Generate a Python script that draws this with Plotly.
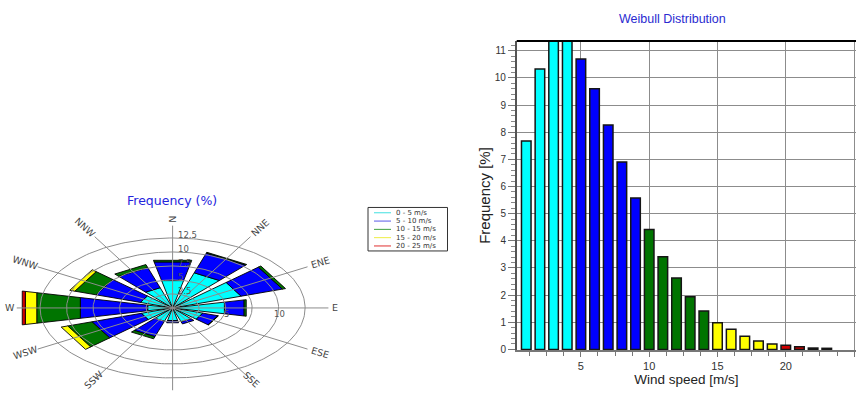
import numpy as np
import plotly.graph_objects as go

# ---------------- wind rose data (frequency %, per direction and speed bin) ----------------
directions = ["N", "NNE", "ENE", "E", "ESE", "SSE", "S", "SSW", "WSW", "W", "WNW", "NNW"]
dir_angles = [0, 30, 60, 90, 120, 150, 180, 210, 240, 270, 300, 330]
# the south label falls below the bottom edge of the page, so it is left out
labelled_dirs = ["N", "NNE", "ENE", "E", "ESE", "SSE", "SSW", "WSW", "W", "WNW", "NNW"]
speed_bins = ["0 - 5 m/s", "5 - 10 m/s", "10 - 15 m/s", "15 - 20 m/s", "20 - 25 m/s"]
freq_0_5 = [5.0, 6.6, 6.8, 5.0, 3.0, 2.6, 2.3, 2.5, 3.1, 2.4, 3.2, 3.8]
freq_5_10 = [3.4, 3.7, 4.1, 1.9, 1.5, 0.4, 0.4, 2.9, 4.9, 6.5, 4.4, 3.8]
freq_10_15 = [0.3, 0.15, 0.3, 0.2, 0.05, 0.0, 0.0, 0.4, 2.4, 4.2, 2.1, 0.55]
freq_15_20 = [0.0, 0.0, 0.0, 0.0, 0.0, 0.0, 0.0, 0.0, 0.65, 1.1, 0.5, 0.0]
freq_20_25 = [0.0, 0.0, 0.0, 0.0, 0.0, 0.0, 0.0, 0.0, 0.0, 0.3, 0.0, 0.0]
ring_values = [2.5, 5, 7.5, 10, 12.5]
ring_labels_n = ["2.5", "5", "7.5", "10", "12.5"]
ring_labels_e = [5, 10]

bin_fill = ["#00ffff", "#0000ff", "#007400", "#ffff00", "#d00000"]
bin_legend_line = ["#40e0e0", "#5a5ae6", "#3f9f3f", "#eeee44", "#e03030"]

# ---------------- Weibull histogram data ----------------
wind_speed = list(range(1, 24))
weibull_freq = [7.68, 10.33, 11.6, 11.5, 10.70, 9.60, 8.27, 6.90, 5.58, 4.42, 3.41,
                2.63, 1.94, 1.41, 0.98, 0.74, 0.48, 0.31, 0.20, 0.15, 0.10, 0.05, 0.04]

W, H = 856, 396
K = 401.0 / 396.0   # vertical layout factor (page is slightly taller than the figure)


def py(y):
    """paper fraction for a vertical pixel position measured from the top"""
    return 1 - y * K / H


fig = go.Figure()

# rose is drawn on a flattened cartesian frame (perspective ellipse)
SX, SY = 10.6, 5.6 * K      # px per frequency unit, horizontal / vertical
CX, CY = 172.6, 308.0 * K   # rose centre in px (from left / top)
XD = [0.0, 0.45]
YD = [0.0, 0.6]
xw = (XD[1] - XD[0]) * W
yh = (YD[1] - YD[0]) * H
x_rng = [-CX / SX, (xw - CX) / SX]
y_rng = [-(H - CY) / SY, (yh - (H - CY)) / SY]

HALF = 12.0  # half sector width, degrees
bin_series = [freq_0_5, freq_5_10, freq_10_15, freq_15_20, freq_20_25]
cum = np.zeros(len(directions))
for b, series in enumerate(bin_series):
    xs, ys = [], []
    for d, ang in enumerate(dir_angles):
        r0, r1 = cum[d], cum[d] + series[d]
        if series[d] <= 0:
            continue
        pts = []
        for r, a in [(r0, ang - HALF), (r1, ang - HALF), (r1, ang + HALF), (r0, ang + HALF), (r0, ang - HALF)]:
            t = np.radians(a)
            pts.append((r * np.sin(t), r * np.cos(t)))
        xs += [p[0] for p in pts] + [None]
        ys += [p[1] for p in pts] + [None]
    cum += np.array(series)
    fig.add_trace(go.Scatter(x=xs, y=ys, mode="lines", fill="toself",
                             fillcolor=bin_fill[b], line=dict(color="#000000", width=0.9),
                             hoverinfo="skip", showlegend=False, xaxis="x", yaxis="y"))

# rings
th = np.linspace(0, 2 * np.pi, 241)
for rv in ring_values:
    fig.add_trace(go.Scatter(x=rv * np.sin(th), y=rv * np.cos(th), mode="lines",
                             line=dict(color="#8c8c8c", width=1), hoverinfo="skip",
                             showlegend=False, xaxis="x", yaxis="y"))
# spokes
SPOKE = 14.7
sx_, sy_ = [], []
for ang in dir_angles:
    t = np.radians(ang)
    sx_ += [0, SPOKE * np.sin(t), None]
    sy_ += [0, SPOKE * np.cos(t), None]
fig.add_trace(go.Scatter(x=sx_, y=sy_, mode="lines", line=dict(color="#8c8c8c", width=1),
                         hoverinfo="skip", showlegend=False, xaxis="x", yaxis="y"))

annotations = []
# direction labels along the spokes
for name, ang in zip(directions, dir_angles):
    if name not in labelled_dirs:
        continue
    t = np.radians(ang)
    vx, vy = np.sin(t) * SX, np.cos(t) * SY
    n = np.hypot(vx, vy)
    ux, uy = vx / n, vy / n
    deg = np.degrees(np.arctan2(vy, vx))
    if deg > 90.01:
        deg -= 180
    elif deg < -90.01:
        deg += 180
    shift = 3 + len(name) * 3.4
    # keep the lower labels inside the page
    end_y_px = CY - SPOKE * np.cos(t) * SY
    if uy < 0:
        shift = min(shift, (380.0 * K - end_y_px) / -uy)
    annotations.append(dict(x=SPOKE * np.sin(t), y=SPOKE * np.cos(t), xref="x", yref="y",
                            text=name, showarrow=False, textangle=-deg,
                            xshift=ux * shift, yshift=uy * shift,
                            xanchor="center", yanchor="middle",
                            font=dict(family="DejaVu Sans", size=9.5, color="#444444")))
# ring labels
for rv, lab in zip(ring_values, ring_labels_n):
    annotations.append(dict(x=0, y=rv, xref="x", yref="y", text=lab, showarrow=False,
                            xanchor="left", yanchor="middle", xshift=3, yshift=2.5,
                            font=dict(family="DejaVu Sans", size=8.5, color="#555555")))
for rv in ring_labels_e:
    annotations.append(dict(x=rv, y=0, xref="x", yref="y", text=str(rv), showarrow=False,
                            xanchor="center", yanchor="middle", xshift=1, yshift=-6,
                            font=dict(family="DejaVu Sans", size=8.5, color="#555555")))

annotations.append(dict(x=172 / W, y=py(201), xref="paper", yref="paper",
                        text="Frequency (%)", showarrow=False, xanchor="center", yanchor="middle",
                        font=dict(family="DejaVu Sans", size=12.5, color="#2424dd")))

# legend box for speed bins
shapes = []
LX0, LX1, LY0, LY1 = 368, 447.5, 207.5, 251
shapes.append(dict(type="rect", xref="paper", yref="paper",
                   x0=LX0 / W, x1=LX1 / W, y0=py(LY1), y1=py(LY0),
                   line=dict(color="#333333", width=1), fillcolor="white"))
for i, (lab, col) in enumerate(zip(speed_bins, bin_legend_line)):
    yy = 212.8 + 8.3 * i
    shapes.append(dict(type="line", xref="paper", yref="paper",
                       x0=374 / W, x1=391 / W, y0=py(yy), y1=py(yy),
                       line=dict(color=col, width=1)))
    annotations.append(dict(x=395 / W, y=py(yy), xref="paper", yref="paper", text=lab,
                            showarrow=False, xanchor="left", yanchor="middle", borderpad=0,
                            font=dict(family="DejaVu Sans", size=7, color="#333333")))

# ---------------- Weibull bars ----------------
def speed_colour(v):
    if v < 5:
        return bin_fill[0]
    if v < 10:
        return bin_fill[1]
    if v < 15:
        return bin_fill[2]
    if v < 20:
        return bin_fill[3]
    return bin_fill[4]

fig.add_trace(go.Bar(x=wind_speed, y=weibull_freq, width=0.7,
                     marker=dict(color=[speed_colour(v) for v in wind_speed],
                                 line=dict(color="#151515", width=1.5)),
                     hoverinfo="skip", showlegend=False, xaxis="x2", yaxis="y2"))

annotations.append(dict(x=672.7 / W, y=py(19), xref="paper", yref="paper",
                        text="Weibull Distribution", showarrow=False,
                        xanchor="center", yanchor="middle",
                        font=dict(family="Liberation Sans", size=12.5, color="#2a2ad0")))

shapes.append(dict(type="line", xref="x2 domain", yref="y2 domain", x0=0, x1=1, y0=1, y1=1,
                   line=dict(color="#000000", width=2)))

X2D = [516.7 / W, 1.0]
Y2D = [py(350), py(41)]

fig.update_layout(
    width=W, height=H, margin=dict(l=0, r=0, t=0, b=0),
    paper_bgcolor="white", plot_bgcolor="white",
    showlegend=False, bargap=0.3,
    xaxis=dict(domain=XD, range=x_rng, visible=False, fixedrange=True),
    yaxis=dict(domain=YD, range=y_rng, visible=False, fixedrange=True),
    xaxis2=dict(domain=X2D, range=[0.3, 25.14], anchor="y2", tick0=0, dtick=5,
                showgrid=True, gridcolor="#8c8c8c", gridwidth=1.3,
                showline=True, linecolor="#777777", linewidth=1.5,
                ticks="outside", ticklen=5, tickcolor="#777777", zeroline=False,
                minor=dict(tick0=0, dtick=1.25, ticks="outside", ticklen=4,
                           tickcolor="#777777", showgrid=False),
                tickfont=dict(family="Liberation Sans", size=11, color="#333333"),
                title=dict(text="Wind speed [m/s]", standoff=4,
                           font=dict(family="Liberation Sans", size=13.5, color="#222222"))),
    yaxis2=dict(domain=Y2D, range=[-0.02, 11.36], anchor="x2", tick0=0, dtick=1,
                showgrid=True, gridcolor="#8c8c8c", gridwidth=1.3, layer="above traces",
                showline=True, linecolor="#555555", linewidth=1.5,
                ticks="outside", ticklen=7, tickcolor="#777777", zeroline=False,
                minor=dict(dtick=0.2, ticks="outside", ticklen=3.5,
                           tickcolor="#888888", showgrid=False),
                tickfont=dict(family="Liberation Sans", size=10, color="#333333"),
                title=dict(text="Frequency [%]", standoff=1,
                           font=dict(family="Liberation Sans", size=15, color="#222222"))),
    annotations=annotations, shapes=shapes,
)

fig.write_html("out.html")
